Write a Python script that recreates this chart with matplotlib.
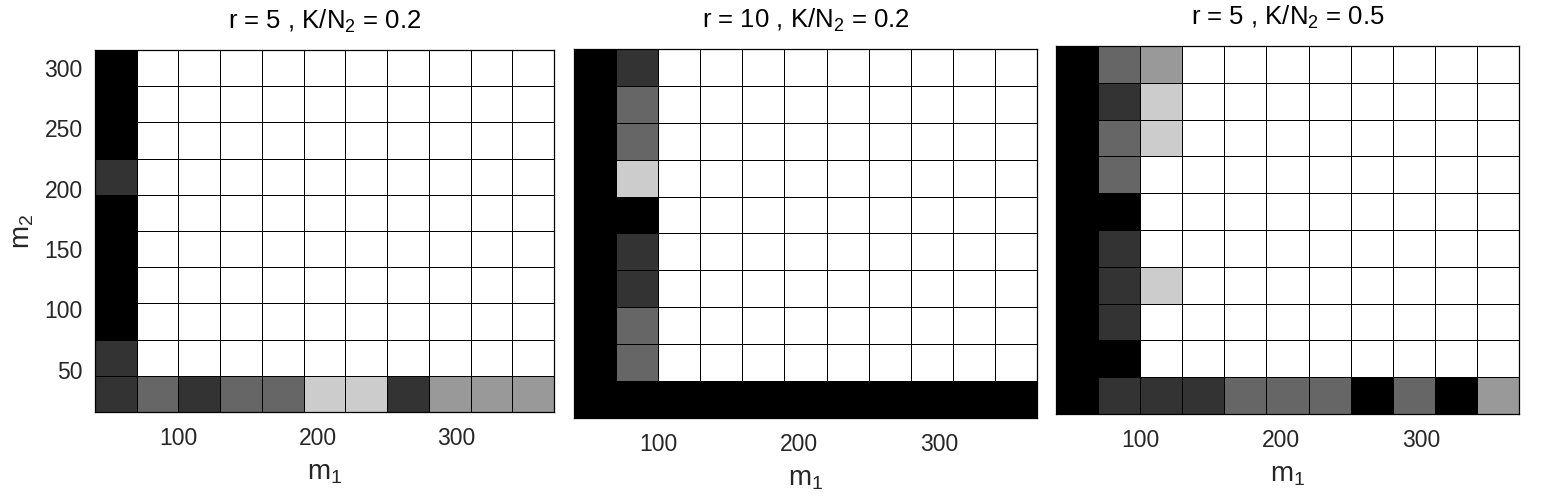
import numpy as np
import matplotlib
matplotlib.use("Agg")
import matplotlib.pyplot as plt

plt.rcParams['font.family'] = ['Liberation Sans', 'DejaVu Sans']
plt.rcParams['mathtext.fontset'] = 'custom'
plt.rcParams['mathtext.rm'] = 'Liberation Sans'
plt.rcParams['mathtext.it'] = 'Liberation Sans:italic'

# Category axes (cell centres)
m1 = [55, 85, 115, 145, 175, 205, 235, 265, 295, 325, 355]
m2 = [300, 270, 240, 210, 180, 150, 120, 90, 60, 30]   # rows listed top -> bottom

# Grey level per cell: 0 = black ... 5 = white; rows top (m2=300) -> bottom (m2=30)
panel1 = [
    [0, 5, 5, 5, 5, 5, 5, 5, 5, 5, 5],
    [0, 5, 5, 5, 5, 5, 5, 5, 5, 5, 5],
    [0, 5, 5, 5, 5, 5, 5, 5, 5, 5, 5],
    [1, 5, 5, 5, 5, 5, 5, 5, 5, 5, 5],
    [0, 5, 5, 5, 5, 5, 5, 5, 5, 5, 5],
    [0, 5, 5, 5, 5, 5, 5, 5, 5, 5, 5],
    [0, 5, 5, 5, 5, 5, 5, 5, 5, 5, 5],
    [0, 5, 5, 5, 5, 5, 5, 5, 5, 5, 5],
    [1, 5, 5, 5, 5, 5, 5, 5, 5, 5, 5],
    [1, 2, 1, 2, 2, 4, 4, 1, 3, 3, 3],
]
panel2 = [
    [0, 1, 5, 5, 5, 5, 5, 5, 5, 5, 5],
    [0, 2, 5, 5, 5, 5, 5, 5, 5, 5, 5],
    [0, 2, 5, 5, 5, 5, 5, 5, 5, 5, 5],
    [0, 4, 5, 5, 5, 5, 5, 5, 5, 5, 5],
    [0, 0, 5, 5, 5, 5, 5, 5, 5, 5, 5],
    [0, 1, 5, 5, 5, 5, 5, 5, 5, 5, 5],
    [0, 1, 5, 5, 5, 5, 5, 5, 5, 5, 5],
    [0, 2, 5, 5, 5, 5, 5, 5, 5, 5, 5],
    [0, 2, 5, 5, 5, 5, 5, 5, 5, 5, 5],
    [0, 0, 0, 0, 0, 0, 0, 0, 0, 0, 0],
]
panel3 = [
    [0, 2, 3, 5, 5, 5, 5, 5, 5, 5, 5],
    [0, 1, 4, 5, 5, 5, 5, 5, 5, 5, 5],
    [0, 2, 4, 5, 5, 5, 5, 5, 5, 5, 5],
    [0, 2, 5, 5, 5, 5, 5, 5, 5, 5, 5],
    [0, 0, 5, 5, 5, 5, 5, 5, 5, 5, 5],
    [0, 1, 5, 5, 5, 5, 5, 5, 5, 5, 5],
    [0, 1, 4, 5, 5, 5, 5, 5, 5, 5, 5],
    [0, 1, 5, 5, 5, 5, 5, 5, 5, 5, 5],
    [0, 0, 5, 5, 5, 5, 5, 5, 5, 5, 5],
    [0, 1, 1, 1, 2, 2, 2, 0, 2, 0, 3],
]

titles = [r'r = 5 , K/N$_\mathregular{2}$ = 0.2',
          r'r = 10 , K/N$_\mathregular{2}$ = 0.2',
          r'r = 5 , K/N$_\mathregular{2}$ = 0.5']
xticks = [100, 200, 300]
yticks = [50, 100, 150, 200, 250, 300]

W, H = 1550, 498
fig = plt.figure(figsize=(W / 100, H / 100), dpi=100)

boxes = [(95, 554, 50, 412), (574, 1037, 49, 418), (1056, 1519, 46, 414)]
txt = '#262626'

for i, (data, title, (x0, x1, y0, y1)) in enumerate(zip([panel1, panel2, panel3], titles, boxes)):
    ax = fig.add_axes([x0 / W, 1 - y1 / H, (x1 - x0) / W, (y1 - y0) / H])
    Z = np.array(data, dtype=float)
    ax.pcolormesh(m1, m2, Z, shading='nearest', cmap='gray', vmin=0, vmax=5,
                  edgecolors='black', linewidth=0.6)
    ax.set_xticks(xticks)
    ax.set_xticklabels([str(t) for t in xticks])
    ax.tick_params(axis='x', length=0, labelsize=16.5, colors=txt, pad=11)
    ax.tick_params(axis='y', length=0, labelsize=16.5, colors=txt, pad=9)
    if i == 0:
        ax.set_yticks(yticks)
        ax.set_yticklabels([str(t) for t in yticks])
        ax.set_ylabel(r'm$_\mathregular{2}$', fontsize=20, color=txt, labelpad=6)
    else:
        ax.set_yticks([])
    ax.set_xlabel(r'm$_\mathregular{1}$', fontsize=20, color=txt, labelpad=7)
    ax.set_title(title, fontsize=18.5, color='black', pad=15)
    for s in ax.spines.values():
        s.set_color('black')
        s.set_linewidth(0.9)

fig.savefig('out.png', dpi=100, facecolor='white')
